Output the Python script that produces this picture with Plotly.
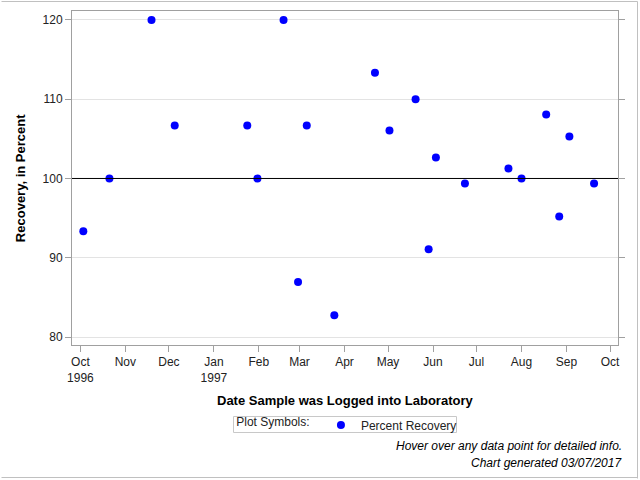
import plotly.graph_objects as go

# ---- data ----
log_dates = [
    "1996-10-03", "1996-10-21", "1996-11-19", "1996-12-05",
    "1997-01-24", "1997-01-31", "1997-02-18", "1997-02-28",
    "1997-03-06", "1997-03-25", "1997-04-22", "1997-05-02",
    "1997-05-20", "1997-05-29", "1997-06-03", "1997-06-23",
    "1997-07-23", "1997-08-01", "1997-08-18", "1997-08-27",
    "1997-09-03", "1997-09-20",
]
recovery = [
    93.33, 100.0, 120.0, 106.67,
    106.67, 100.0, 120.0, 86.96,
    106.67, 82.76, 113.33, 106.06,
    110.0, 91.07, 102.65, 99.37,
    101.27, 100.0, 108.06, 95.21,
    105.29, 99.37,
]
x_tick_vals = [
    "1996-10-01", "1996-11-01", "1996-12-01", "1997-01-01",
    "1997-02-01", "1997-03-01", "1997-04-01", "1997-05-01",
    "1997-06-01", "1997-07-01", "1997-08-01", "1997-09-01",
    "1997-10-01",
]
x_tick_text = [
    "Oct<br>1996", "Nov", "Dec", "Jan<br>1997", "Feb", "Mar", "Apr",
    "May", "Jun", "Jul", "Aug", "Sep", "Oct",
]
y_tick_vals = [80, 90, 100, 110, 120]
reference_value = 100

FONT = "Arial, Liberation Sans, sans-serif"
AXIS_COLOR = "#a0a0a0"

W, H = 640, 480
L, R, T, B = 72, 22, 11, 135
PW, PH = W - L - R, H - T - B


def px_x(p):
    return (p - L) / PW


def px_y(p):
    return (H - B - p) / PH


fig = go.Figure()
fig.add_trace(go.Scatter(
    x=log_dates, y=recovery, mode="markers",
    name="Percent Recovery",
    marker=dict(color="#0000ff", size=8, line=dict(width=0)),
    hovertemplate="Date: %{x|%m/%d/%Y}<br>Recovery: %{y:.2f}%<extra></extra>",
))

fig.add_hline(y=reference_value, line=dict(color="black", width=1))

fig.update_layout(
    width=W, height=H,
    margin=dict(l=L, r=R, t=T, b=B, autoexpand=False),
    paper_bgcolor="white", plot_bgcolor="white",
    font=dict(family=FONT, size=12, color="#222222"),
    showlegend=True,
    legend=dict(
        orientation="h",
        xref="container", yref="container",
        x=0.366, xanchor="left", y=0.1146, yanchor="middle",
        title=dict(text="Plot Symbols: ", font=dict(size=12)),
        borderwidth=0, bgcolor="rgba(0,0,0,0)",
        font=dict(size=12, family=FONT, color="#222222"),
        itemwidth=30,
    ),
    xaxis=dict(
        type="date",
        range=["1996-09-25 05:00", "1997-10-06 12:00"],
        tickmode="array", tickvals=x_tick_vals, ticktext=x_tick_text,
        showgrid=False, zeroline=False,
        showline=True, linecolor=AXIS_COLOR, linewidth=1, mirror=True,
        ticks="outside", ticklen=6, tickcolor=AXIS_COLOR,
        tickfont=dict(size=12, family=FONT, color="#222222"),
        automargin=False,
    ),
    yaxis=dict(
        range=[79, 121.12],
        tickmode="array", tickvals=y_tick_vals,
        showgrid=True, gridcolor="#e3e3e3", gridwidth=1,
        zeroline=False,
        showline=True, linecolor=AXIS_COLOR, linewidth=1, mirror="ticks",
        ticks="outside", ticklen=6, tickcolor=AXIS_COLOR,
        tickfont=dict(size=12, family=FONT, color="#222222"),
        automargin=False,
    ),
    annotations=[
        dict(text="<b>Date Sample was Logged into Laboratory</b>",
             xref="paper", yref="paper", x=0.5, y=-0.165,
             xanchor="center", yanchor="middle", showarrow=False,
             font=dict(size=13, family=FONT, color="black")),
        dict(text="<b>Recovery, in Percent</b>",
             xref="paper", yref="paper", x=-0.095, y=0.5, textangle=-90,
             xanchor="center", yanchor="middle", showarrow=False,
             font=dict(size=13, family=FONT, color="black")),
        dict(text="<i>Hover over any data point for detailed info.</i>",
             xref="paper", yref="paper", x=1.011, y=-0.302,
             xanchor="right", yanchor="middle", showarrow=False,
             font=dict(size=12, family=FONT, color="black")),
        dict(text="<i>Chart generated 03/07/2017</i>",
             xref="paper", yref="paper", x=1.011, y=-0.353,
             xanchor="right", yanchor="middle", showarrow=False,
             font=dict(size=12, family=FONT, color="black")),
    ],
    shapes=[
        # outer frame, as four lines in pixel-snapped paper coordinates
        dict(type="line", xref="paper", yref="paper",
             x0=px_x(1.5), x1=px_x(1.5), y0=px_y(1.5), y1=px_y(478.5),
             line=dict(color="#c0c0c0", width=1), layer="above"),
        dict(type="line", xref="paper", yref="paper",
             x0=px_x(637.5), x1=px_x(637.5), y0=px_y(1.5), y1=px_y(478.5),
             line=dict(color="#c0c0c0", width=1), layer="above"),
        dict(type="line", xref="paper", yref="paper",
             x0=px_x(1.5), x1=px_x(637.5), y0=px_y(1.5), y1=px_y(1.5),
             line=dict(color="#c0c0c0", width=1), layer="above"),
        dict(type="line", xref="paper", yref="paper",
             x0=px_x(1.5), x1=px_x(637.5), y0=px_y(477.5), y1=px_y(477.5),
             line=dict(color="#c0c0c0", width=1), layer="above"),
        # legend frame
        dict(type="rect", xref="paper", yref="paper",
             x0=px_x(233.5), x1=px_x(456.5), y0=px_y(432.5), y1=px_y(416.5),
             line=dict(color="#c8c8c8", width=1), fillcolor="rgba(0,0,0,0)",
             layer="below"),
    ],
)

fig.write_html("out.html", config={"displayModeBar": False},
               post_script="document.body.style.margin='0';")
